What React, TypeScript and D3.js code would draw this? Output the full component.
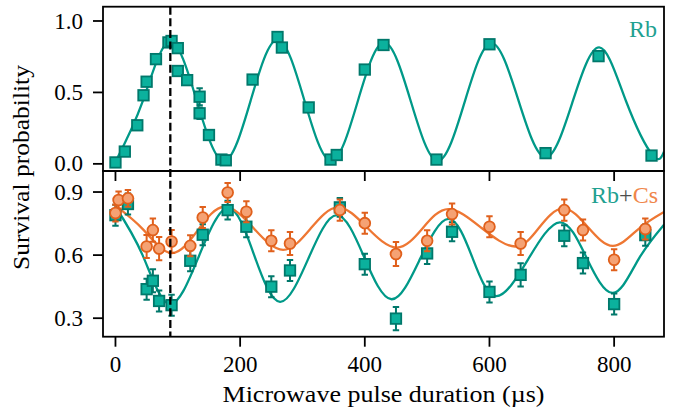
import React from "react";
import * as d3 from "d3";

// ---------- data ----------
// Top panel: Rb alone
const rbX = [0, 15, 35, 45, 50, 65, 85, 90, 100, 100, 115, 135, 135, 150, 170, 177, 220, 260, 267, 310, 345, 355, 400, 430, 515, 600, 690, 775, 860];
const rbY = [0.01, 0.086, 0.27, 0.48, 0.575, 0.733, 0.85, 0.86, 0.81, 0.65, 0.586, 0.47, 0.354, 0.202, 0.03, 0.025, 0.59, 0.888, 0.814, 0.395, 0.03, 0.062, 0.66, 0.832, 0.03, 0.837, 0.075, 0.754, 0.058];
const rbErr = [0.02, 0.02, 0.03, 0.03, 0.03, 0.03, 0.03, 0.03, 0.03, 0.03, 0.03, 0.06, 0.04, 0.03, 0.02, 0.02, 0.03, 0.02, 0.03, 0.03, 0.02, 0.02, 0.03, 0.02, 0.02, 0.02, 0.02, 0.03, 0.02];
// Fitted curve for Rb (extrema and mid-points)
const rbFitX = [0, 43.5, 87, 130.5, 174, 217, 260, 303, 346, 388.5, 431, 474, 517, 560, 603, 646.5, 690, 733, 776, 819, 862, 880];
const rbFitY = [0.015, 0.435, 0.855, 0.44, 0.02, 0.445, 0.87, 0.445, 0.02, 0.435, 0.85, 0.435, 0.02, 0.43, 0.845, 0.445, 0.045, 0.43, 0.815, 0.44, 0.06, 0.085];

// Bottom panel: Rb with Cs
const mixX = [0, 20, 50, 60, 70, 90, 120, 140, 180, 210, 250, 280, 360, 400, 450, 500, 540, 600, 650, 720, 750, 800, 850];
const mixRbY = [0.79, 0.843, 0.438, 0.478, 0.382, 0.362, 0.573, 0.697, 0.814, 0.735, 0.45, 0.527, 0.827, 0.557, 0.298, 0.608, 0.711, 0.425, 0.506, 0.692, 0.562, 0.367, 0.695];
const mixRbErr = [0.05, 0.05, 0.05, 0.055, 0.05, 0.05, 0.05, 0.05, 0.045, 0.05, 0.05, 0.05, 0.045, 0.05, 0.055, 0.05, 0.045, 0.05, 0.055, 0.05, 0.05, 0.05, 0.05];
const csX = [0, 5, 20, 50, 60, 70, 90, 120, 140, 180, 210, 250, 280, 360, 400, 450, 500, 540, 600, 650, 720, 750, 800, 850];
const csY = [0.8, 0.862, 0.87, 0.641, 0.719, 0.631, 0.665, 0.644, 0.779, 0.898, 0.806, 0.668, 0.655, 0.814, 0.752, 0.605, 0.668, 0.795, 0.735, 0.655, 0.814, 0.719, 0.578, 0.724];
const csErr = [0.04, 0.04, 0.04, 0.055, 0.055, 0.055, 0.055, 0.05, 0.05, 0.045, 0.05, 0.05, 0.055, 0.05, 0.05, 0.057, 0.05, 0.05, 0.05, 0.055, 0.05, 0.05, 0.05, 0.05];
const mixRbFitX = [0, 43.5, 87, 134, 181, 222.5, 264, 309.5, 355, 399, 443, 488.5, 534, 572.5, 611, 662, 713, 755.5, 798, 839, 880];
const mixRbFitY = [0.83, 0.6, 0.367, 0.596, 0.825, 0.6, 0.378, 0.584, 0.79, 0.59, 0.39, 0.581, 0.772, 0.589, 0.405, 0.58, 0.756, 0.589, 0.42, 0.58, 0.745];
const csFitX = [0, 45, 90, 132.5, 175, 222, 269, 313, 357, 404, 451, 492.5, 534, 587, 641, 679.5, 718, 758, 798, 839, 880];
const csFitY = [0.835, 0.72, 0.61, 0.72, 0.83, 0.727, 0.625, 0.726, 0.827, 0.73, 0.636, 0.727, 0.819, 0.73, 0.641, 0.73, 0.822, 0.733, 0.644, 0.724, 0.805];

const xTicks = [0, 200, 400, 600, 800];
const topYTicks = [0.0, 0.5, 1.0];
const botYTicks = [0.3, 0.6, 0.9];
const piTime = 88;

// ---------- styling ----------
const TEAL = "#009988";
const TEAL_FILL = "#0bb19d";
const TEAL_EDGE = "#00786b";
const ORANGE = "#ee7733";
const ORANGE_FILL = "#f5a274";
const ORANGE_EDGE = "#e0601c";
const FONT = "Liberation Serif, DejaVu Serif, serif";

export default function App() {
  const W = 675, H = 418;
  const L = 103, R = 664;
  const topT = 6.7, mid = 171, botB = 336.7;

  const x = d3.scaleLinear().domain([-20, 880]).range([L, R]);
  const yTop = d3.scaleLinear().domain([-0.05, 1.1]).range([mid, topT]);
  const yBot = d3.scaleLinear().domain([0.212, 1.0]).range([botB, mid]);

  const lineGen = (ys: d3.ScaleLinear<number, number>) =>
    d3.line<[number, number]>().x((d) => x(d[0])).y((d) => ys(d[1])).curve(d3.curveNatural);

  const zip = (a: number[], b: number[]) => a.map((v, i) => [v, b[i]] as [number, number]);

  const sq = 10.5;
  const cap = 3.2;

  const errBars = (xs: number[], ys: number[], es: number[], ysc: any, color: string, key: string) =>
    xs.map((xv, i) => {
      const cx = x(xv);
      const y1 = ysc(ys[i] - es[i]);
      const y2 = ysc(ys[i] + es[i]);
      return (
        <g key={key + i} stroke={color} strokeWidth={2}>
          <line x1={cx} x2={cx} y1={y1} y2={y2} />
          <line x1={cx - cap} x2={cx + cap} y1={y1} y2={y1} />
          <line x1={cx - cap} x2={cx + cap} y1={y2} y2={y2} />
        </g>
      );
    });

  const squares = (xs: number[], ys: number[], ysc: any, key: string) =>
    xs.map((xv, i) => (
      <rect key={key + i} x={x(xv) - sq / 2} y={ysc(ys[i]) - sq / 2} width={sq} height={sq}
        fill={TEAL_FILL} stroke={TEAL_EDGE} strokeWidth={1.8} />
    ));

  const circles = (xs: number[], ys: number[], ysc: any, key: string) =>
    xs.map((xv, i) => (
      <circle key={key + i} cx={x(xv)} cy={ysc(ys[i])} r={5.4}
        fill={ORANGE_FILL} stroke={ORANGE_EDGE} strokeWidth={1.8} />
    ));

  return (
    <svg width={W} height={H} style={{ position: "absolute", left: 0, top: 0, background: "#fff", fontFamily: FONT }}>
      <defs>
        <clipPath id="clipTop"><rect x={L} y={topT} width={R - L} height={mid - topT} /></clipPath>
        <clipPath id="clipBot"><rect x={L} y={mid} width={R - L} height={botB - mid} /></clipPath>
      </defs>

      {/* top panel */}
      <g clipPath="url(#clipTop)">
        <path d={lineGen(yTop)(zip(rbFitX, rbFitY)) || ""} fill="none" stroke={TEAL} strokeWidth={2.3} />
        {errBars(rbX, rbY, rbErr, yTop, TEAL_EDGE, "te")}
        {squares(rbX, rbY, yTop, "ts")}
      </g>

      {/* bottom panel */}
      <g clipPath="url(#clipBot)">
        <path d={lineGen(yBot)(zip(mixRbFitX, mixRbFitY)) || ""} fill="none" stroke={TEAL} strokeWidth={2.3} />
        <path d={lineGen(yBot)(zip(csFitX, csFitY)) || ""} fill="none" stroke={ORANGE} strokeWidth={2.3} />
        {errBars(mixX, mixRbY, mixRbErr, yBot, TEAL_EDGE, "be")}
        {squares(mixX, mixRbY, yBot, "bs")}
        {errBars(csX, csY, csErr, yBot, ORANGE_EDGE, "ce")}
        {circles(csX, csY, yBot, "cc")}
      </g>

      {/* pi-pulse dashed line */}
      <line x1={x(piTime)} x2={x(piTime)} y1={topT} y2={botB} stroke="#000" strokeWidth={2.3}
        strokeDasharray="8,3.6" />

      {/* frames */}
      <rect x={L} y={topT} width={R - L} height={mid - topT} fill="none" stroke="#000" strokeWidth={1.8} />
      <rect x={L} y={mid} width={R - L} height={botB - mid} fill="none" stroke="#000" strokeWidth={1.8} />

      {/* x ticks */}
      {xTicks.map((t) => (
        <g key={"xt" + t} stroke="#000" strokeWidth={1.8}>
          <line x1={x(t)} x2={x(t)} y1={mid} y2={mid + 10} />
          <line x1={x(t)} x2={x(t)} y1={botB} y2={botB + 10} />
        </g>
      ))}
      {xTicks.map((t) => (
        <text key={"xl" + t} x={x(t)} y={372} textAnchor="middle" fontSize={23} fill="#000">{t}</text>
      ))}

      {/* y ticks */}
      {topYTicks.map((t) => (
        <g key={"yt" + t}>
          <line x1={L - 10} x2={L} y1={yTop(t)} y2={yTop(t)} stroke="#000" strokeWidth={1.8} />
          <text x={83} y={yTop(t) + 7.6} textAnchor="end" fontSize={23} fill="#000">{t.toFixed(1)}</text>
        </g>
      ))}
      {botYTicks.map((t) => (
        <g key={"yb" + t}>
          <line x1={L - 10} x2={L} y1={yBot(t)} y2={yBot(t)} stroke="#000" strokeWidth={1.8} />
          <text x={83} y={yBot(t) + 7.6} textAnchor="end" fontSize={23} fill="#000">{t.toFixed(1)}</text>
        </g>
      ))}

      {/* axis labels */}
      <text x={(L + R) / 2} y={402} textAnchor="middle" fontSize={24} fill="#000"
        textLength={322} lengthAdjust="spacingAndGlyphs">Microwave pulse duration (µs)</text>
      <text transform={`translate(28.5,167.5) rotate(-90)`} textAnchor="middle" fontSize={24} fill="#000"
        textLength={205} lengthAdjust="spacingAndGlyphs">Survival probability</text>

      {/* panel labels */}
      <text x={657} y={36.7} textAnchor="end" fontSize={24} fill="#1fa191">Rb</text>
      <text x={658} y={202.7} textAnchor="end" fontSize={24}>
        <tspan fill="#1fa191">Rb</tspan>
        <tspan fill="#4d4d4d">+</tspan>
        <tspan fill="#f0864a">Cs</tspan>
      </text>
    </svg>
  );
}
